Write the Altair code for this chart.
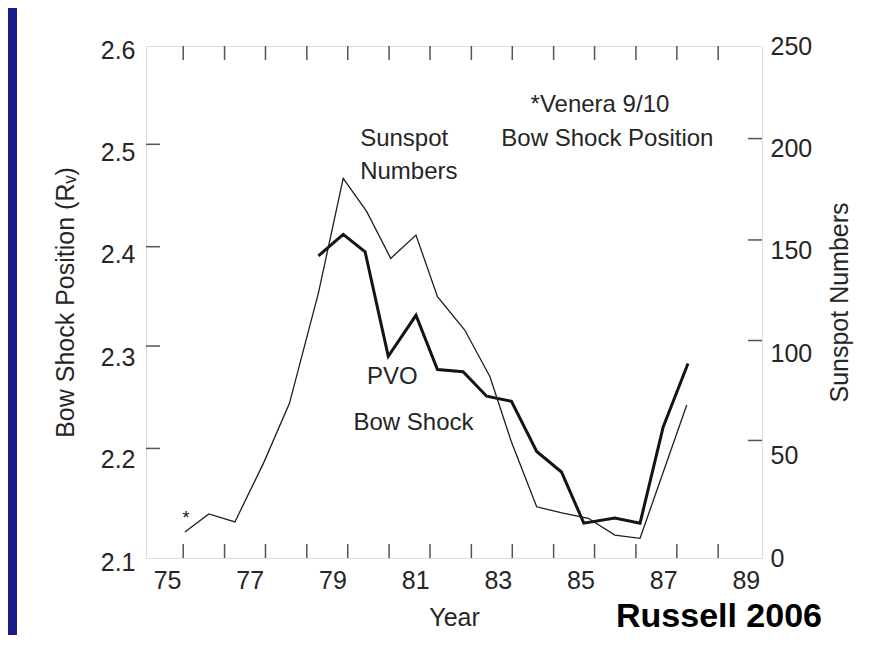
import altair as alt
import pandas as pd

# ---------------- data ----------------
year_labels = [75, 77, 79, 81, 83, 85, 87, 89]
year_ticks = [75.39, 76.39, 77.38, 78.38, 79.37, 80.37, 81.36, 82.36,
              83.35, 84.35, 85.34, 86.34, 87.33, 88.33]

left_labels = [2.1, 2.2, 2.3, 2.4, 2.5, 2.6]
left_ticks = [2.504, 2.404, 2.307, 2.207]
right_labels = [0, 50, 100, 150, 200, 250]
right_ticks = [204.8, 155.3, 106.2, 57.4]

# Sunspot numbers (thin line, right axis)
ss_year = [75.43, 76.01, 76.64, 77.33, 77.96, 78.66, 79.26, 79.83, 80.41, 81.02,
           81.54, 82.20, 82.81, 83.33, 83.94, 84.55, 85.19, 85.83, 86.44, 87.57]
ss_value = [12.7, 21.5, 17.6, 46.2, 75.5, 129.3, 185.4, 169.1, 146.3, 157.7,
            127.6, 111.3, 88.5, 56.6, 25.0, 22.0, 19.4, 11.2, 9.6, 74.7]

# PVO bow shock position (thick line, left axis)
bs_year = [78.66, 79.26, 79.79, 80.35, 81.02, 81.54, 82.16, 82.73,
           83.33, 83.94, 84.54, 85.08, 85.83, 86.44, 87.00, 87.60]
bs_value = [2.395, 2.416, 2.399, 2.297, 2.337, 2.284, 2.282, 2.258,
            2.253, 2.204, 2.184, 2.134, 2.139, 2.134, 2.228, 2.290]

# Venera 9/10 bow shock position (asterisk)
venera_year = [75.46]
venera_value = [2.143]

# annotations (text, year, value on left axis)
ann_center_text = ["*Venera 9/10", "Bow Shock Position", "PVO", "Bow Shock"]
ann_center_year = [85.47, 85.65, 80.45, 80.96]
ann_center_val = [2.5424, 2.5092, 2.277, 2.2315]
ann_left_text = ["Sunspot", "Numbers"]
ann_left_year = [79.67, 79.67]
ann_left_val = [2.509, 2.4773]

# ---------------- chart ----------------
W, H = 616, 512
FONT = "Liberation Sans"
TXT = "#262626"

x_scale = alt.Scale(domain=[74.49, 89.39], nice=False, zero=False)
yl_scale = alt.Scale(domain=[2.1, 2.6], nice=False, zero=False)
yr_scale = alt.Scale(domain=[0, 250], nice=False, zero=False)

x_axis = alt.Axis(values=year_labels, format="d", title="Year", ticks=False, tickSize=0,
                  domain=False, grid=False, labelFlush=False, labelPadding=10,
                  titlePadding=12, labelFontSize=25, titleFontSize=25,
                  titleFontWeight="normal", labelColor=TXT, titleColor=TXT,
                  labelFont=FONT, titleFont=FONT)
yl_axis = alt.Axis(values=left_labels, format=".1f", title="Bow Shock Position (Rᵥ)",
                   orient="left", ticks=False, tickSize=0, domain=False, grid=False,
                   labelFlush=False, labelPadding=11, labelOffset=4, titlePadding=22,
                   labelFontSize=25, titleFontSize=25, titleFontWeight="normal",
                   labelColor=TXT, titleColor=TXT, labelFont=FONT, titleFont=FONT)
yr_axis = alt.Axis(values=right_labels, format="d", title="Sunspot Numbers",
                   orient="right", ticks=False, tickSize=0, domain=False, grid=False,
                   labelFlush=False, labelPadding=8, titlePadding=16, titleAngle=270,
                   titleBaseline="top", labelFontSize=25, titleFontSize=25,
                   titleFontWeight="normal", labelColor=TXT, titleColor=TXT,
                   labelFont=FONT, titleFont=FONT)


def X(field):
    return alt.X(f"{field}:Q", scale=x_scale, axis=x_axis)


def YL(field):
    return alt.Y(f"{field}:Q", scale=yl_scale, axis=yl_axis)


def YR(field):
    return alt.Y(f"{field}:Q", scale=yr_scale, axis=yr_axis)


df_ss = pd.DataFrame({"year": ss_year, "val": ss_value})
df_bs = pd.DataFrame({"year": bs_year, "val": bs_value})
df_ven = pd.DataFrame({"year": venera_year, "val": venera_value, "t": ["*"] * len(venera_year)})
df_ac = pd.DataFrame({"year": ann_center_year, "val": ann_center_val, "t": ann_center_text})
df_al = pd.DataFrame({"year": ann_left_year, "val": ann_left_val, "t": ann_left_text})
df_xt = pd.DataFrame({"yr": year_ticks})
df_lt = pd.DataFrame({"v": left_ticks})
df_rt = pd.DataFrame({"v": right_ticks})
df_one = pd.DataFrame({"k": [0]})

AX = "#555555"

bow = alt.Chart(df_bs).mark_line(color="#141414", strokeWidth=3, strokeJoin="miter").encode(
    x=X("year"), y=YL("val"), order="year:Q")
ven = alt.Chart(df_ven).mark_text(fontSize=18, baseline="alphabetic", dy=10, color="#111",
                                  font=FONT).encode(x=X("year"), y=YL("val"), text="t:N")
ann_c = alt.Chart(df_ac).mark_text(fontSize=24, align="center", baseline="middle",
                                   color=TXT, font=FONT).encode(
    x=X("year"), y=YL("val"), text="t:N")
ann_l = alt.Chart(df_al).mark_text(fontSize=24, align="left", baseline="middle",
                                   color=TXT, font=FONT).encode(
    x=X("year"), y=YL("val"), text="t:N")
lt = alt.Chart(df_lt).mark_rule(color=AX, strokeWidth=1.5).encode(
    y=YL("v"), x=alt.value(0), x2=alt.value(14))
bt = alt.Chart(df_xt).mark_rule(color=AX, strokeWidth=1.5).encode(
    x=X("yr"), y=alt.value(H), y2=alt.value(H - 14))
tt = alt.Chart(df_xt).mark_rule(color=AX, strokeWidth=1.5).encode(
    x=X("yr"), y=alt.value(0), y2=alt.value(14))
strip = alt.Chart(df_one).mark_rect(color="#1b1b8a").encode(
    x=alt.value(-138), x2=alt.value(-129), y=alt.value(-38), y2=alt.value(589))
credit = alt.Chart(df_one).mark_text(text="Russell 2006", fontSize=34, fontWeight="bold",
                                     align="center", baseline="alphabetic", color="#000",
                                     font=FONT).encode(
    x=alt.value(573), y=alt.value(581))

left = alt.layer(strip, bt, tt, lt, bow, ven, ann_c, ann_l, credit)

ss = alt.Chart(df_ss).mark_line(color="#1e1e1e", strokeWidth=1.3).encode(
    x=X("year"), y=YR("val"), order="year:Q")
rt = alt.Chart(df_rt).mark_rule(color=AX, strokeWidth=1.5).encode(
    y=YR("v"), x=alt.value(W), x2=alt.value(W - 14))
right = alt.layer(ss, rt)

chart = alt.layer(left, right).resolve_scale(y="independent").properties(
    width=W, height=H,
    autosize=alt.AutoSizeParams(type="none"),
    padding={"left": 138, "top": 38, "right": 121, "bottom": 77},
    background="white",
).configure_view(stroke=AX, strokeWidth=1.5).configure(font=FONT)

chart.save("out.html", embed_options={"renderer": "svg", "actions": False})
